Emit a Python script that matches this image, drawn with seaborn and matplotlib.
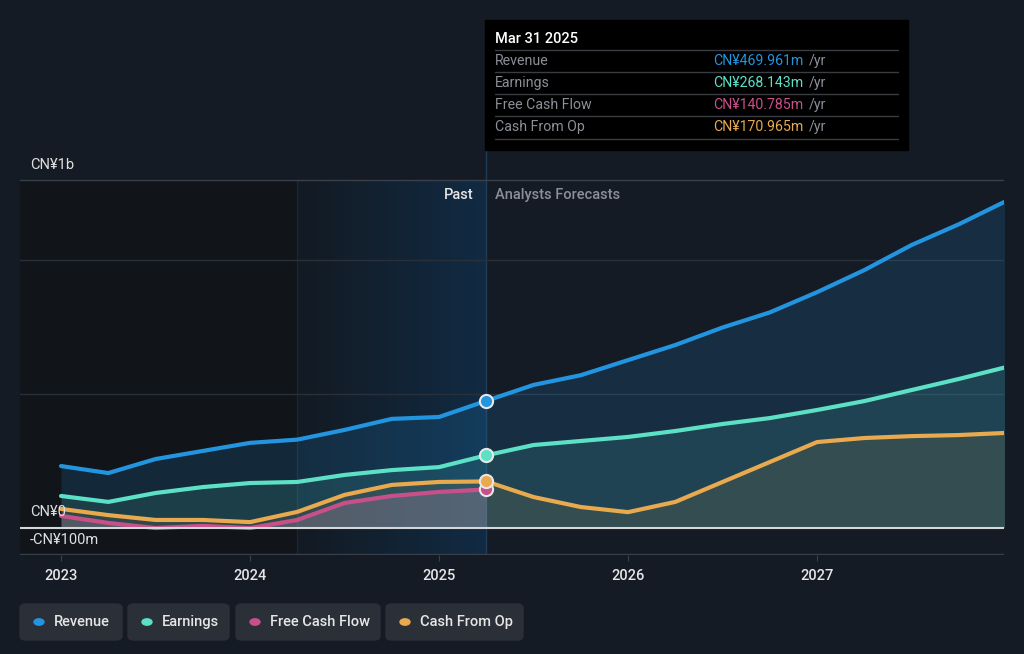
from matplotlib import pyplot as plt
from matplotlib.patches import FancyBboxPatch, Rectangle
from matplotlib.colors import LinearSegmentedColormap
import seaborn as sb
import pandas as pd
import numpy as np

# past values, quarterly (CN¥ m)
past_t = [2023.0, 2023.25, 2023.5, 2023.75, 2024.0, 2024.25, 2024.5, 2024.75, 2025.0, 2025.25]
past_revenue = [228, 202, 254, 284, 314, 326, 362, 403, 410, 470]
past_earnings = [117, 95, 128, 150, 165, 169, 195, 213, 224, 268]
past_fcf = [43, 17, -2, 6, -2, 28, 91, 117, 132, 141]
past_cfo = [69, 46, 28, 28, 20, 58, 121, 158, 169, 171]

# analyst forecasts
fc_t = [2025.25, 2025.5, 2025.75, 2026.0, 2026.25, 2026.5, 2026.75, 2027.0, 2027.25, 2027.5, 2027.75, 2028.0]
fc_revenue = [470, 529, 565, 621, 677, 742, 798, 873, 955, 1048, 1125, 1211]
fc_earnings = [268, 306, 321, 336, 358, 384, 406, 436, 469, 510, 551, 595]
fc_cfo = [171, 113, 76, 57, 95, 169, 243, 317, 332, 339, 343, 351]

year_ticks = [2023, 2024, 2025, 2026, 2027]
series_names = ["Revenue", "Earnings", "Free Cash Flow", "Cash From Op"]
series_colors = ["#2394df", "#5ce0c6", "#c8508a", "#e8a94f"]
tooltip_values = ["CN¥469.961m", "CN¥268.143m", "CN¥140.785m", "CN¥170.965m"]

BG = "#151b24"
W, H = 1024, 654

sb.set_style("dark")
plt.rcParams["font.family"] = ["Roboto", "DejaVu Sans"]

fig = plt.figure(figsize=(10.24, 6.54), dpi=100)
fig.patch.set_facecolor(BG)
ax = fig.add_axes([20 / W, 99 / H, 984 / W, 555 / H])
ax.set_facecolor(BG)

x_lo, x_hi = 2022.783, 2027.989
y_lo, y_hi = -102, 1957
top_line = 1289

# background regions: dark history, gradient band for the last year
ax.add_patch(Rectangle((x_lo, y_lo), 2024.25 - x_lo, top_line - y_lo, color="#111419", zorder=0))
band_cmap = LinearSegmentedColormap.from_list("band", ["#131a23", "#112b43"])
ax.imshow(np.linspace(0, 1, 64).reshape(1, -1), cmap=band_cmap, aspect="auto",
          extent=[2024.25, 2025.25, y_lo, top_line], zorder=0, interpolation="bilinear")
ax.plot([2024.25, 2024.25], [y_lo, top_line], color="#18283a", lw=1, zorder=1)
ax.plot([2025.25, 2025.25], [y_lo, top_line + 200], color="#1f3c58", lw=1, zorder=1)
ax.set_xlim(x_lo, x_hi)
ax.set_ylim(y_lo, y_hi)

# grid lines
for gy, gc in [(top_line, "#3a4049"), (992, "#2a3039"), (495, "#2a3039")]:
    ax.axhline(gy, color=gc, lw=1, zorder=1)
ax.axhline(0, color="#d4d6d9", lw=1.5, zorder=6)
ax.axhline(y_lo + 2, color="#3a4049", lw=1, zorder=1)

past = pd.DataFrame({"t": past_t, "Revenue": past_revenue, "Earnings": past_earnings,
                     "Free Cash Flow": past_fcf, "Cash From Op": past_cfo})
fc = pd.DataFrame({"t": fc_t, "Revenue": fc_revenue, "Earnings": fc_earnings, "Cash From Op": fc_cfo})

# area fills
fills = [("Revenue", 0.16), ("Earnings", 0.12), ("Cash From Op", 0.10)]
for name, a in fills:
    c = series_colors[series_names.index(name)]
    ax.fill_between(past["t"], past[name], 0, color=c, alpha=a, lw=0, zorder=2)
    ax.fill_between(fc["t"], fc[name], 0, color=c, alpha=a, lw=0, zorder=2)
ax.fill_between(past["t"], past["Free Cash Flow"], 0, color="#9aa0b0", alpha=0.22, lw=0, zorder=2)
ax.fill_between(past["t"], past["Free Cash Flow"], 0, color=series_colors[2], alpha=0.10, lw=0, zorder=2)

# lines
for name, c in zip(series_names, series_colors):
    sb.lineplot(data=past, x="t", y=name, color=c, lw=3, ax=ax, zorder=5)
    if name in fc.columns:
        sb.lineplot(data=fc, x="t", y=name, color=c, lw=3, ax=ax, zorder=5)

# markers at the present date
for name, c in zip(series_names, series_colors):
    ax.scatter([past_t[-1]], [past[name].iloc[-1]], s=90, color=c, edgecolor="#e6e6e6",
               linewidth=1.5, zorder=7)

ax.set_xlabel("")
ax.set_ylabel("")
ax.set_yticks([])
ax.set_xticks(year_ticks)
ax.set_xticklabels([str(y) for y in year_ticks], color="#e6e6e6", fontsize=10.5, fontweight="medium")
ax.tick_params(axis="x", length=4, color="#3a4049", pad=6, direction="out", bottom=True)
for s in ax.spines.values():
    s.set_visible(False)
ax.grid(False)

def ftext(x, y, s, **kw):
    fig.text(x / W, 1 - y / H, s, **kw)

# y labels
ftext(30, 165, "CN¥1b", color="#e0e0e0", fontsize=10.5, va="center")
ftext(30, 512, "CN¥0", color="#e0e0e0", fontsize=10.5, va="center")
ftext(30, 540, "-CN¥100m", color="#e0e0e0", fontsize=10.5, va="center")

ftext(474, 195, "Past", color="#e6e6e6", fontsize=10.5, fontweight="medium", ha="right", va="center")
ftext(495, 195, "Analysts Forecasts", color="#8b9098", fontsize=10.5, fontweight="medium",
      ha="left", va="center")

# tooltip
fig.patches.append(Rectangle((485 / W, 1 - 150 / H), 423 / W, 130 / H, transform=fig.transFigure,
                             color="#000000", zorder=10))
ftext(495, 39, "Mar 31 2025", color="#ffffff", fontsize=10.5, fontweight="medium", va="center", zorder=11)
row_y = [61, 83, 105, 127]
for i, (nm, val, c) in enumerate(zip(series_names, tooltip_values, series_colors)):
    sep = row_y[i] - 11
    fig.lines.append(plt.Line2D([495 / W, 898 / W], [1 - sep / H, 1 - sep / H], transform=fig.transFigure,
                                color="#3a3d42", lw=1, zorder=11))
    ftext(495, row_y[i], nm, color="#8b9098", fontsize=10.2, va="center", zorder=11)
    ftext(803, row_y[i], val, color=c, fontsize=10.2, ha="right", va="center", zorder=11)
    ftext(809, row_y[i], "/yr", color="#8b9098", fontsize=10.2, va="center", zorder=11)
fig.lines.append(plt.Line2D([495 / W, 898 / W], [1 - 139 / H, 1 - 139 / H], transform=fig.transFigure,
                            color="#3a3d42", lw=1, zorder=11))

# legend chips
chips = [(20, 122), (128, 229), (236, 380), (386, 523)]
for (x0, x1), nm, c in zip(chips, series_names, series_colors):
    fig.patches.append(FancyBboxPatch((x0 / W, 1 - 640 / H), (x1 - x0) / W, 36 / H,
                                      boxstyle="round,pad=0,rounding_size=0.006",
                                      transform=fig.transFigure, color="#2a2f38", zorder=10))
    fig.patches.append(plt.Circle(((x0 + 19) / W, 1 - 622 / H), 5 / W, transform=fig.transFigure,
                                  color=c, zorder=11))
    ftext(x0 + 34, 622, nm, color="#e6e6e6", fontsize=10.5, fontweight="medium", va="center", zorder=11)

plt.savefig("out.png", dpi=100, facecolor=BG)
plt.close("all")
